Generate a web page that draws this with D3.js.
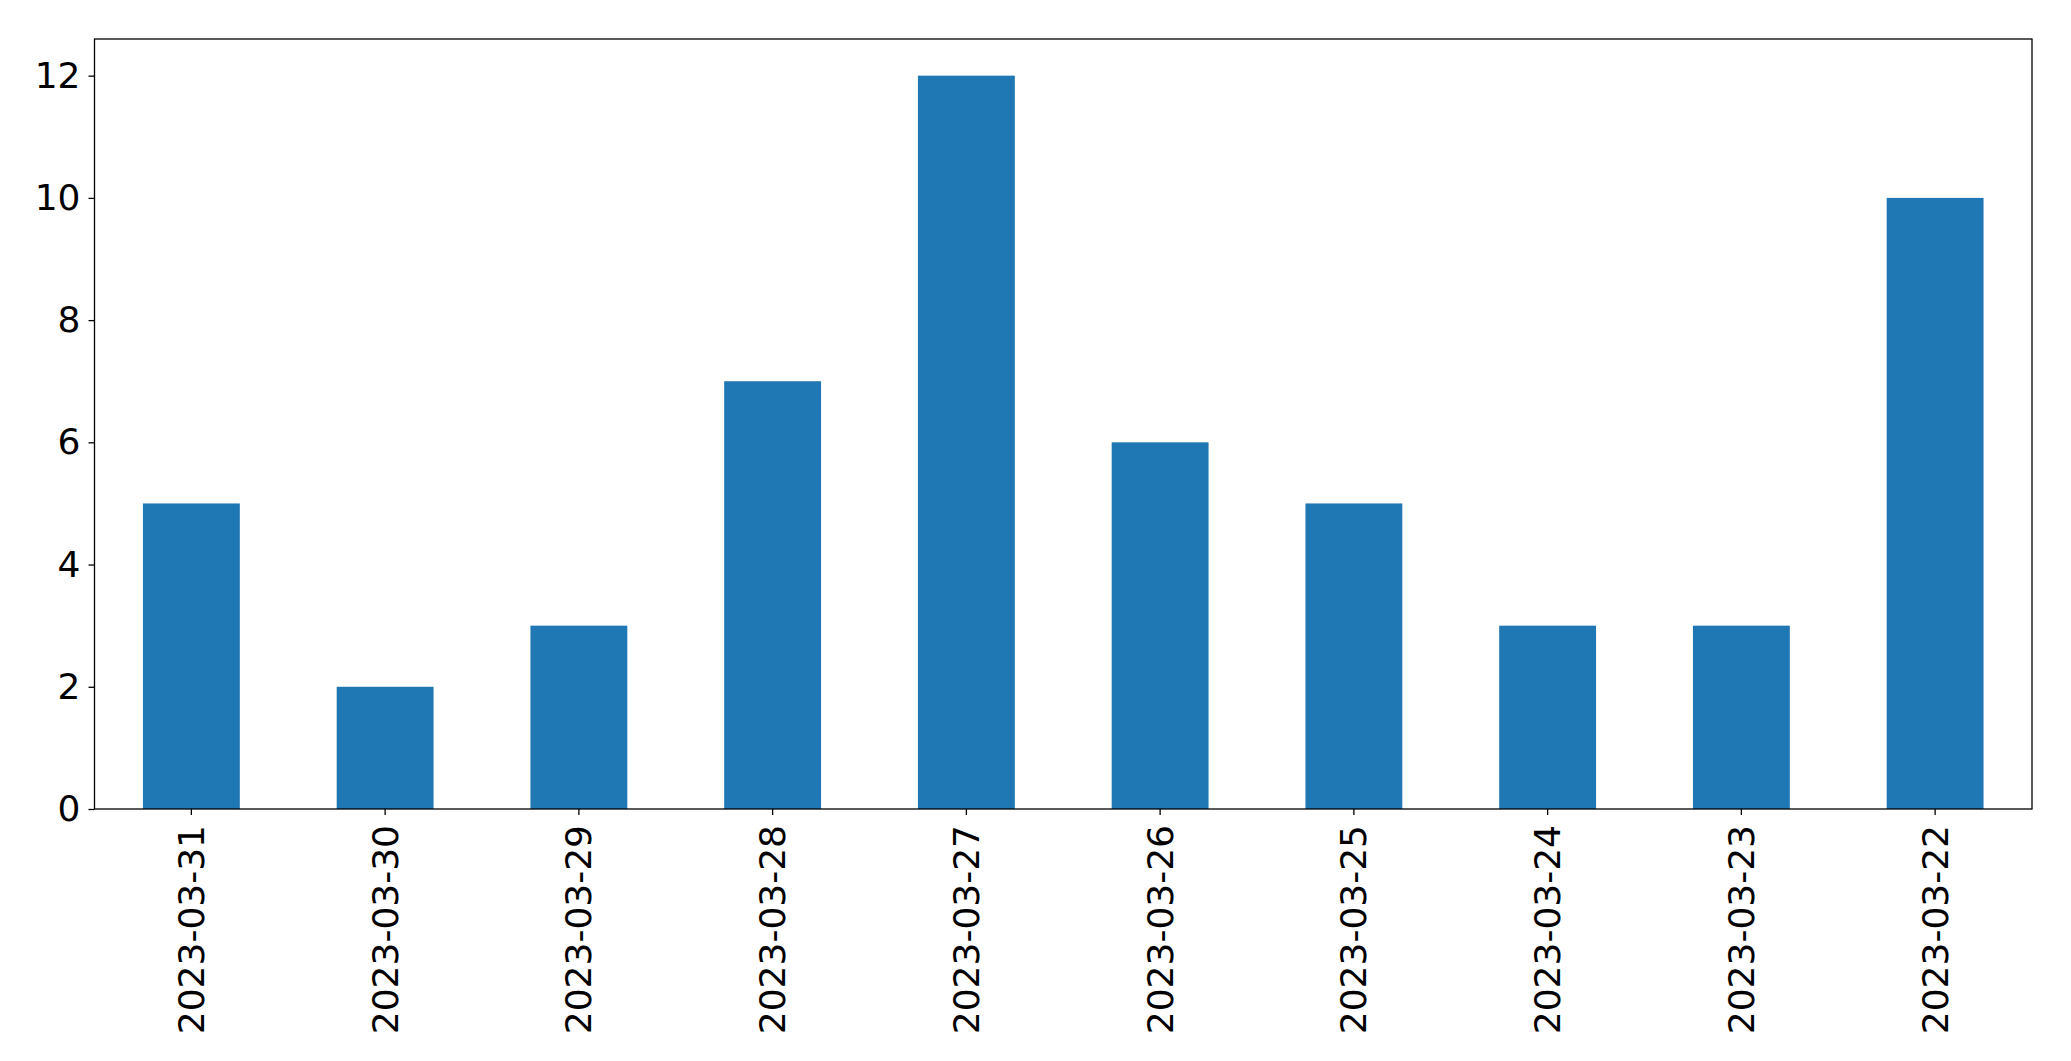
<!DOCTYPE html>
<html>
<head>
<meta charset="utf-8">
<script src="https://cdn.jsdelivr.net/npm/d3@7"></script>
<style>
  body { margin: 0; background: #fff; }
  text { font-family: "DejaVu Sans", sans-serif; }
</style>
</head>
<body>
<script>
const dates = ['2023-03-31', '2023-03-30', '2023-03-29', '2023-03-28', '2023-03-27',
               '2023-03-26', '2023-03-25', '2023-03-24', '2023-03-23', '2023-03-22'];
const counts = [5, 2, 3, 7, 12, 6, 5, 3, 3, 10];
const yTicks = [0, 2, 4, 6, 8, 10, 12];

const width = 2071, height = 1061;
const plotLeft = 94.5, plotRight = 2032, plotTop = 39, plotBottom = 809;

const svg = d3.select('body').append('svg')
    .attr('width', width)
    .attr('height', height);

const x = d3.scaleBand()
    .domain(dates)
    .range([plotLeft, plotRight])
    .paddingInner(0.5)
    .paddingOuter(0.25);

const y = d3.scaleLinear()
    .domain([0, d3.max(counts) * 1.05])
    .range([plotBottom, plotTop]);

svg.selectAll('rect.bar')
    .data(counts)
    .enter().append('rect')
    .attr('class', 'bar')
    .attr('x', (d, i) => x(dates[i]))
    .attr('y', d => y(d))
    .attr('width', x.bandwidth())
    .attr('height', d => y(0) - y(d))
    .attr('fill', '#1f77b4');

const yAxis = svg.append('g')
    .attr('transform', 'translate(' + plotLeft + ',0)')
    .call(d3.axisLeft(y).tickValues(yTicks).tickSize(6).tickPadding(8));

const xAxis = svg.append('g')
    .attr('transform', 'translate(0,' + plotBottom + ')')
    .call(d3.axisBottom(x).tickSize(6).tickPadding(8));

[yAxis, xAxis].forEach(function(g) {
    g.select('.domain').remove();
    g.selectAll('line').attr('stroke', '#000').attr('stroke-width', 1.3);
    g.selectAll('text').attr('fill', '#000').style('font-size', '36px');
});

xAxis.selectAll('text')
    .attr('transform', 'rotate(-90)')
    .attr('text-anchor', 'end')
    .attr('x', -16)
    .attr('y', 0)
    .attr('dy', '0.35em');

svg.append('rect')
    .attr('x', plotLeft)
    .attr('y', plotTop)
    .attr('width', plotRight - plotLeft)
    .attr('height', plotBottom - plotTop)
    .attr('fill', 'none')
    .attr('stroke', '#000')
    .attr('stroke-width', 1.3);
</script>
</body>
</html>
